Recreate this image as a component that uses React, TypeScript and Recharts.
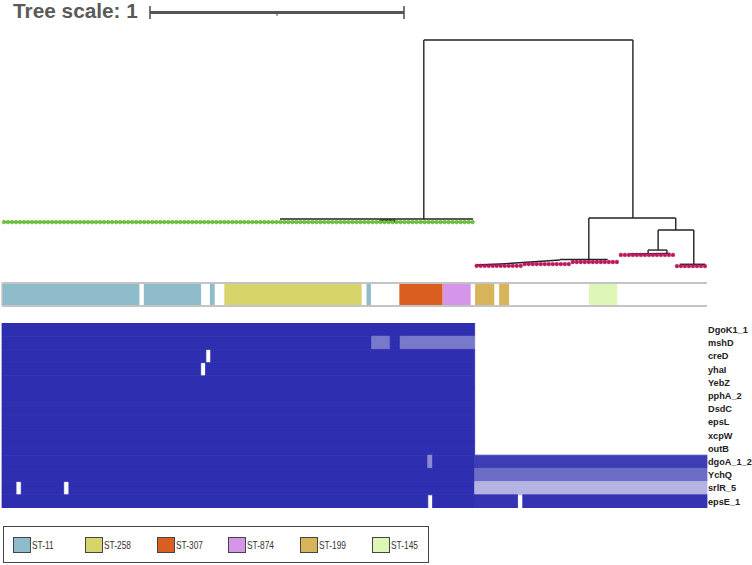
import React from 'react';
import { ComposedChart, XAxis, YAxis, ReferenceLine, ReferenceArea, Scatter, Line } from 'recharts';

const LEAF_COUNT = 176;

const genes = ['DgoK1_1', 'mshD', 'creD', 'yhaI', 'YebZ', 'pphA_2', 'DsdC', 'epsL', 'xcpW', 'outB', 'dgoA_1_2', 'YchQ', 'srlR_5', 'epsE_1'];

const stTypes = ['ST-11', 'ST-258', 'ST-307', 'ST-874', 'ST-199', 'ST-145'];
const stColors = ['#8fbccb', '#d8d46c', '#d95e20', '#d596ea', '#d7b45a', '#def6b6'];

// [fromLeaf, toLeaf, ST index]
const stripRuns = [
  [0, 34.3, 0], [35.4, 49.7, 0], [51.9, 53.1, 0], [55.5, 89.8, 1], [91, 92.1, 0],
  [99.2, 110, 2], [110.1, 117, 3], [118.1, 122.9, 4], [124.1, 126.6, 4], [146.5, 153.6, 5],
];

// [row, fromLeaf, toLeaf, value]
const heatRuns = [
  [0, 0, 118, 1],
  [1, 0, 92.3, 1], [1, 92.3, 96.9, 0.64], [1, 96.9, 99.4, 1], [1, 99.4, 118, 0.64],
  [2, 0, 50.9, 1], [2, 52.1, 118, 1],
  [3, 0, 49.6, 1], [3, 50.8, 118, 1],
  [4, 0, 118, 1],
  [5, 0, 118, 1],
  [6, 0, 118, 1],
  [7, 0, 118, 1],
  [8, 0, 118, 1],
  [9, 0, 118, 1],
  [10, 0, 106.3, 1], [10, 106.3, 107.5, 0.56], [10, 107.5, 118, 1], [10, 118, 176, 0.93],
  [11, 0, 118, 1], [11, 118, 176, 0.7],
  [12, 0, 3.5, 1], [12, 4.8, 15.4, 1], [12, 16.7, 118, 1], [12, 118, 176, 0.36],
  [13, 0, 106.3, 1], [13, 107.5, 118, 1], [13, 118, 128.7, 0.97], [13, 130, 176, 0.97],
];

// tree branches: [x1 (leaf units), depth1, x2, depth2]
const treeBranches = [
  [105.3, 0, 157.5, 0],
  [105.3, 0, 105.3, 0.705],
  [157.5, 0, 157.5, 0.701],
  [69.4, 0.705, 117.6, 0.705],
  [94.4, 0.709, 98, 0.709],
  [94.4, 0.709, 94.4, 0.717],
  [98, 0.709, 98, 0.717],
  [146.5, 0.701, 168.2, 0.701],
  [146.5, 0.701, 146.5, 0.864],
  [168.2, 0.701, 168.2, 0.748],
  [139.3, 0.864, 151.2, 0.864],
  [124.3, 0.882, 139.3, 0.866],
  [118.6, 0.886, 124.3, 0.882],
  [163.8, 0.748, 172.7, 0.748],
  [163.8, 0.748, 163.8, 0.827],
  [172.7, 0.748, 172.7, 0.882],
  [161.3, 0.827, 166, 0.827],
  [161.3, 0.827, 161.3, 0.841],
  [166, 0.827, 166, 0.841],
  [156.8, 0.842, 166.8, 0.840],
  [169.2, 0.883, 175.5, 0.883],
];

// green leaf baseline [fromLeaf, toLeaf, depth]
const leafBaseline = [0.5, 117.5, 0.717];

// leaf groups: [firstLeaf, lastLeaf, depth, clade]
const leafGroups = [
  [0, 117, 0.717, 'green'],
  [118, 129, 0.889, 'pink'],
  [130, 141, 0.882, 'pink'],
  [142, 153, 0.874, 'pink'],
  [154, 167, 0.846, 'pink'],
  [168, 175, 0.89, 'pink'],
];

// tree scale bar: one unit of branch length
const scaleBar = [{ x: 0, y: 0.5 }, { x: 1, y: 0.5 }];

const heatColor = (v: number) => {
  const r = Math.round(255 - v * (255 - 46));
  const b = Math.round(255 - v * (255 - 176));
  return `rgb(${r},${r},${b})`;
};

const leaves: { x: number; depth: number; clade: string }[] = [];
leafGroups.forEach(([a, b, d, c]) => {
  for (let i = a as number; i <= (b as number); i++) leaves.push({ x: i + 0.5, depth: d as number, clade: c as string });
});
const greenLeaves = leaves.filter((l) => l.clade === 'green');
const pinkLeaves = leaves.filter((l) => l.clade === 'pink');

const stripAnchors = stripRuns.map((s) => ({ x: (s[0] + s[1]) / 2, y: 0.5 }));
const heatAnchors = heatRuns.map((h) => ({ x: (h[1] + h[2]) / 2, y: h[0] + 0.5 }));

const W = 752;

const GreenDot = (p: any) => (
  <circle cx={p.cx} cy={p.cy} r={1.8} fill="#6ccc36" stroke="#4f9e25" strokeWidth={0.5} />
);
const PinkDot = (p: any) => (
  <circle cx={p.cx} cy={p.cy} r={1.9} fill="#c2145c" stroke="#a00f4a" strokeWidth={0.4} />
);
const NoShape = () => <g />;

function TreeChart() {
  return (
    <ComposedChart width={W} height={300} margin={{ top: 40, right: 45, bottom: 6, left: 2 }}>
      <XAxis type="number" dataKey="x" domain={[0, LEAF_COUNT]} hide allowDataOverflow />
      <YAxis type="number" dataKey="depth" domain={[0, 1]} reversed hide allowDataOverflow />
      <ReferenceLine
        segment={[{ x: leafBaseline[0], y: leafBaseline[2] }, { x: leafBaseline[1], y: leafBaseline[2] }]}
        stroke="#3d5a2a"
        strokeWidth={1}
      />
      {treeBranches.map((b, i) => (
        <ReferenceLine
          key={i}
          segment={[{ x: b[0], y: b[1] }, { x: b[2], y: b[3] }]}
          stroke="#222"
          strokeWidth={1.4}
        />
      ))}
      <Scatter data={greenLeaves} isAnimationActive={false} shape={GreenDot} />
      <Scatter data={pinkLeaves} isAnimationActive={false} shape={PinkDot} />
    </ComposedChart>
  );
}

function StripChart() {
  return (
    <ComposedChart width={W} height={27} margin={{ top: 2, right: 45, bottom: 2, left: 2 }}>
      <XAxis type="number" dataKey="x" domain={[0, LEAF_COUNT]} hide allowDataOverflow />
      <YAxis type="number" dataKey="y" domain={[0, 1]} hide allowDataOverflow />
      {stripRuns.map((s, i) => (
        <ReferenceArea key={i} x1={s[0]} x2={s[1]} y1={0} y2={1} fill={stColors[s[2]]} fillOpacity={1} stroke="none" />
      ))}
      <ReferenceLine y={1} stroke="#c4c4c4" strokeWidth={2} />
      <ReferenceLine y={0} stroke="#c4c4c4" strokeWidth={2} />
      <ReferenceLine x={0} stroke="#c4c4c4" strokeWidth={1.5} />
      <Scatter data={stripAnchors} isAnimationActive={false} shape={NoShape} />
    </ComposedChart>
  );
}

function HeatChart() {
  const ticks = genes.map((_, i) => i + 0.5);
  return (
    <ComposedChart width={W} height={185} margin={{ top: 0, right: 0, bottom: 0, left: 2 }}>
      <XAxis type="number" dataKey="x" domain={[0, LEAF_COUNT]} hide allowDataOverflow />
      <YAxis
        type="number"
        dataKey="y"
        domain={[0, genes.length]}
        reversed
        orientation="right"
        width={45}
        ticks={ticks}
        interval={0}
        tickFormatter={(v: number) => genes[Math.floor(v)]}
        axisLine={false}
        tickLine={false}
        tickSize={0}
        tickMargin={1}
        tick={{ fill: '#222', fontSize: 9.2, fontWeight: 700, fontFamily: 'Liberation Sans, Arial, sans-serif', textAnchor: 'start' }}
        allowDataOverflow
      />
      {heatRuns.map((h, i) => (
        <ReferenceArea
          key={i}
          x1={h[1]}
          x2={h[2]}
          y1={h[0]}
          y2={h[0] + 1}
          fill={heatColor(h[3])}
          fillOpacity={1}
          stroke={heatColor(h[3])}
          strokeWidth={0.8}
        />
      ))}
      <Scatter data={heatAnchors} isAnimationActive={false} shape={NoShape} />
    </ComposedChart>
  );
}

function ScaleBar() {
  return (
    <ComposedChart width={W} height={26} data={scaleBar} margin={{ top: 6, right: W - 404, bottom: 7, left: 150 }}>
      <XAxis type="number" dataKey="x" domain={[0, 1]} hide allowDataOverflow />
      <YAxis type="number" dataKey="y" domain={[0, 1]} hide allowDataOverflow />
      <Line dataKey="y" stroke="#555" strokeWidth={3} dot={false} isAnimationActive={false} />
      <ReferenceLine segment={[{ x: 0, y: 0 }, { x: 0, y: 1 }]} stroke="#555" strokeWidth={1.6} />
      <ReferenceLine segment={[{ x: 1, y: 0 }, { x: 1, y: 1 }]} stroke="#555" strokeWidth={1.6} />
      <ReferenceLine segment={[{ x: 0.5, y: 0.5 }, { x: 0.5, y: 0.25 }]} stroke="#555" strokeWidth={1.2} />
    </ComposedChart>
  );
}

function LegendBox() {
  return (
    <div
      style={{
        position: 'absolute', left: 3, top: 526, width: 424, height: 35,
        border: '1px solid #444', background: '#fff', boxSizing: 'content-box',
      }}
    >
      {stTypes.map((t, i) => (
        <div key={t} style={{ position: 'absolute', left: 9 + i * 71.8, top: 10, display: 'flex', alignItems: 'center' }}>
          <div style={{ width: 16, height: 14, background: stColors[i], border: '1px solid #444' }} />
          <span
            style={{
              fontFamily: '"Liberation Sans", Arial, sans-serif', fontSize: 11, color: '#333', marginLeft: 1,
              display: 'inline-block', transform: 'scaleX(0.76)', transformOrigin: 'left center', whiteSpace: 'nowrap',
            }}
          >
            {t}
          </span>
        </div>
      ))}
    </div>
  );
}

export default function App() {
  return (
    <div style={{ position: 'absolute', left: 0, top: 0, width: W, height: 565, background: '#fff', overflow: 'hidden' }}>
      <div style={{ position: 'absolute', left: 0, top: 0 }}>
        <ScaleBar />
      </div>
      <div
        style={{
          position: 'absolute', left: 13, top: -1, fontFamily: '"Liberation Sans", Arial, sans-serif',
          fontWeight: 700, fontSize: 20.8, color: '#5a5a5a', lineHeight: '24px',
        }}
      >
        Tree scale: 1
      </div>
      <div style={{ position: 'absolute', left: 0, top: 0 }}>
        <TreeChart />
      </div>
      <div style={{ position: 'absolute', left: 0, top: 281 }}>
        <StripChart />
      </div>
      <div style={{ position: 'absolute', left: 0, top: 323 }}>
        <HeatChart />
      </div>
      <LegendBox />
    </div>
  );
}
